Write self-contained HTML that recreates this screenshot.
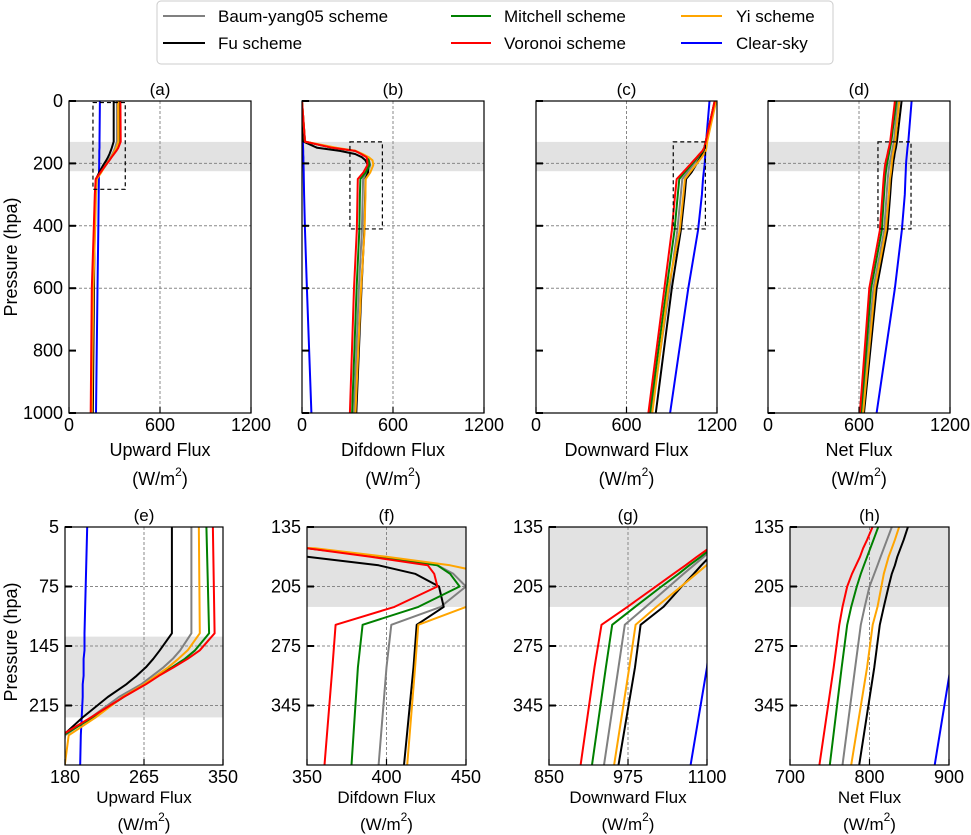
<!DOCTYPE html>
<html><head><meta charset="utf-8">
<style>
html,body{margin:0;padding:0;background:#fff;overflow:hidden;}
svg{display:block;font-family:"Liberation Sans",Arial,sans-serif;}
</style></head>
<body>
<svg id="chart" width="971" height="835" viewBox="0 0 971 835" xmlns="http://www.w3.org/2000/svg">
<g>
<rect x="157" y="1" width="676" height="63" rx="4" fill="#fff" stroke="#ccc"/>
<g><line x1="163" y1="16" x2="205" y2="16" stroke="gray" stroke-width="2"/><text x="218" y="22" font-size="17">Baum-yang05 scheme</text></g>
<g><line x1="163" y1="43" x2="205" y2="43" stroke="#000" stroke-width="2"/><text x="218" y="49" font-size="17">Fu scheme</text></g>
<g><line x1="451" y1="16" x2="491" y2="16" stroke="green" stroke-width="2"/><text x="504" y="22" font-size="17">Mitchell scheme</text></g>
<g><line x1="451" y1="43" x2="491" y2="43" stroke="red" stroke-width="2"/><text x="504" y="49" font-size="17">Voronoi scheme</text></g>
<g><line x1="681" y1="16" x2="722" y2="16" stroke="orange" stroke-width="2"/><text x="736" y="22" font-size="17">Yi scheme</text></g>
<g><line x1="681" y1="43" x2="722" y2="43" stroke="blue" stroke-width="2"/><text x="736" y="49" font-size="17">Clear-sky</text></g>
</g>
<text transform="translate(17,257) rotate(-90)" text-anchor="middle" font-size="18">Pressure (hpa)</text>
<text transform="translate(17,642) rotate(-90)" text-anchor="middle" font-size="18">Pressure (hpa)</text>
</svg>
<script>
// pressure levels (hPa)
const pressure = [0,130,150,160,170,180,190,205,229,250,300,415,600,1000];
const seriesNames = ["Baum-yang05","Fu","Mitchell","Voronoi","Yi","Clear-sky"];
const seriesColors = ["gray","#000","green","red","orange","blue"];
// Upward flux
const upBaum  = [316,316,304,296,286,274,262,238,208,180,175,170,163,152];
const upFu    = [295,295,282,275,267,257,246,226,199,178,172,168,165,157];
const upMitch = [332,335,320,309,295,280,266,243,210,178,172,166,155,147];
const upVoro  = [339,341,325,312,297,281,267,243,208,176,170,163,150,143];
const upYi    = [324,325,312,302,291,278,265,242,213,184,178,172,160,150];
const upClear = [204,201,201,200,200,200,199,199,198,197,196,193,188,178];
// Diffuse downward flux
const dfBaum  = [0,20,200,350,395,432,442,450,434,403,400,395,375,343];
const dfFu    = [0,10,100,250,350,395,418,433,436,419,417,411,392,358];
const dfMitch = [0,20,200,350,395,432,440,446,420,385,382,378,360,330];
const dfVoro  = [0,20,200,350,390,426,430,432,405,368,366,361,343,316];
const dfYi    = [0,20,230,355,400,440,465,470,450,420,418,413,390,352];
const dfClear = [0,6,7,8,8,9,9,10,11,12,14,20,32,62];
// Downward flux
const dnBaum  = [1185,1125,1117,1110,1095,1079,1063,1040,1003,970,960,937,885,765];
const dnFu    = [1188,1128,1118,1110,1104,1091,1079,1060,1031,995,986,960,900,794];
const dnMitch = [1185,1125,1115,1107,1090,1072,1055,1028,986,950,940,918,866,756];
const dnVoro  = [1185,1125,1115,1103,1084,1066,1047,1019,974,933,922,900,851,745];
const dnYi    = [1195,1135,1130,1126,1113,1099,1083,1059,1020,987,977,953,877,771];
const dnClear = [1150,1128,1125,1123,1122,1121,1120,1118,1112,1107,1100,1074,1010,889];
// Net flux
const ntBaum  = [855,830,822,818,814,810,806,800,794,789,782,766,695,622];
const ntFu    = [881,850,843,839,835,832,828,824,818,813,806,787,716,633];
const ntMitch = [845,813,805,801,797,793,789,784,777,772,765,750,680,614];
const ntVoro  = [837,806,797,792,788,783,778,772,766,762,755,737,668,606];
const ntYi    = [865,839,832,828,824,821,818,815,810,804,797,777,705,627];
const ntClear = [947,925,920,918,916,914,912,910,908,906,902,882,837,716];
// tick labels
const topXTicks = [0,600,1200];
const topYTicks = [0,200,400,600,800,1000];
const topYGrid = [200,400,600];
const eYTicks = [5,75,145,215];
const fghYTicks = [135,205,275,345];
const eXTicks = [180,265,350];
const fXTicks = [350,400,450];
const gXTicks = [850,975,1100];
const hXTicks = [700,800,900];

const NS = "http://www.w3.org/2000/svg";
const svg = document.getElementById("chart");
function mk(tag, attrs, parent){
  const e = document.createElementNS(NS, tag);
  for (const k in attrs) e.setAttribute(k, attrs[k]);
  (parent||svg).appendChild(e);
  return e;
}
const upSeries = [upBaum,upFu,upMitch,upVoro,upYi,upClear];
const dfSeries = [dfBaum,dfFu,dfMitch,dfVoro,dfYi,dfClear];
const dnSeries = [dnBaum,dnFu,dnMitch,dnVoro,dnYi,dnClear];
const ntSeries = [ntBaum,ntFu,ntMitch,ntVoro,ntYi,ntClear];
const drawOrder = [5,0,1,2,4,3];

const panels = [
 {id:"a",x0:69,x1:251,y0:101,y1:413,xr:[0,1200],yr:[0,1000],xt:topXTicks,yt:topYTicks,yg:topYGrid,xg:[600],band:[131,225],box:[158,371,5,283],data:upSeries,title:"Upward Flux",ylab:true},
 {id:"b",x0:302,x1:484,y0:101,y1:413,xr:[0,1200],yr:[0,1000],xt:topXTicks,yt:topYTicks,yg:topYGrid,xg:[600],band:[131,225],box:[316,530,131,410],data:dfSeries,title:"Difdown Flux",ylab:false},
 {id:"c",x0:536,x1:717,y0:101,y1:413,xr:[0,1200],yr:[0,1000],xt:topXTicks,yt:topYTicks,yg:topYGrid,xg:[600],band:[131,225],box:[910,1123,131,410],data:dnSeries,title:"Downward Flux",ylab:false},
 {id:"d",x0:768,x1:950,y0:101,y1:413,xr:[0,1200],yr:[0,1000],xt:topXTicks,yt:topYTicks,yg:topYGrid,xg:[600],band:[131,225],box:[725,943,131,410],data:ntSeries,title:"Net Flux",ylab:false},
 {id:"e",x0:65,x1:223,y0:527,y1:765,xr:[180,350],yr:[5,285],xt:eXTicks,yt:eYTicks,yg:[75,145,215],xg:[265],band:[134,229],box:null,data:upSeries,title:"Upward Flux",ylab:true},
 {id:"f",x0:307,x1:466,y0:527,y1:765,xr:[350,450],yr:[135,415],xt:fXTicks,yt:fghYTicks,yg:[205,275,345],xg:[400],band:[135,229],box:null,data:dfSeries,title:"Difdown Flux",ylab:true},
 {id:"g",x0:549,x1:707,y0:527,y1:765,xr:[850,1100],yr:[135,415],xt:gXTicks,yt:fghYTicks,yg:[205,275,345],xg:[975],band:[135,229],box:null,data:dnSeries,title:"Downward Flux",ylab:true},
 {id:"h",x0:790,x1:949,y0:527,y1:765,xr:[700,900],yr:[135,415],xt:hXTicks,yt:fghYTicks,yg:[205,275,345],xg:[800],band:[135,229],box:null,data:ntSeries,title:"Net Flux",ylab:true}
];

const defs = mk("defs",{});
panels.forEach(P=>{
  const X = v => P.x0 + (v-P.xr[0])/(P.xr[1]-P.xr[0])*(P.x1-P.x0);
  const Y = v => P.y0 + (v-P.yr[0])/(P.yr[1]-P.yr[0])*(P.y1-P.y0);
  const cp = mk("clipPath",{id:"clip-"+P.id},defs);
  mk("rect",{x:P.x0,y:P.y0,width:P.x1-P.x0,height:P.y1-P.y0},cp);
  const g = mk("g",{});
  
  
  const band = mk("rect",{x:P.x0,y:Y(P.band[0]),width:P.x1-P.x0,height:Y(P.band[1])-Y(P.band[0]),fill:"#e2e2e2"},g);
  
  
  P.xg.forEach(v=>{
    const l = mk("line",{x1:X(v),x2:X(v),y1:P.y0,y2:P.y1,stroke:"#888","stroke-width":1,"stroke-dasharray":"3,2"},g);
    
    
  });
  P.yg.forEach(v=>{
    const l = mk("line",{x1:P.x0,x2:P.x1,y1:Y(v),y2:Y(v),stroke:"#888","stroke-width":1,"stroke-dasharray":"3,2"},g);
    
    
  });
  const lg = mk("g",{"clip-path":"url(#clip-"+P.id+")"},g);
  drawOrder.forEach(si=>{
    const vals = P.data[si];
    let d = "";
    vals.forEach((v,i)=>{ d += (i?"L":"M") + X(v).toFixed(1) + "," + Y(pressure[i]).toFixed(1); });
    const path = mk("path",{d:d,fill:"none",stroke:seriesColors[si],"stroke-width":2,"stroke-linejoin":"round"},lg);
    
    
  });
  if (P.box){
    const b = mk("rect",{x:X(P.box[0]),y:Y(P.box[2]),width:X(P.box[1])-X(P.box[0]),height:Y(P.box[3])-Y(P.box[2]),fill:"none",stroke:"#000","stroke-width":1.2,"stroke-dasharray":"4,3"},g);
    
    
  }
  const fr = mk("rect",{x:P.x0,y:P.y0,width:P.x1-P.x0,height:P.y1-P.y0,fill:"none",stroke:"#000","stroke-width":1.2},g);
  
  
  P.yt.forEach(v=>{
    mk("line",{x1:P.x0,x2:P.x0+7,y1:Y(v),y2:Y(v),stroke:"#000","stroke-width":2},g);
    if (P.ylab){
      const t = mk("text",{x:P.x0-6,y:Y(v)+6,"text-anchor":"end","font-size":18},g);
      t.textContent = v;
      
      
    }
  });
  P.xt.forEach(v=>{
    mk("line",{x1:X(v),x2:X(v),y1:P.y1,y2:P.y1-6,stroke:"#000","stroke-width":1.2},g);
    const t = mk("text",{x:X(v),y:P.y1+18,"text-anchor":"middle","font-size":18},g);
    t.textContent = v;
    
    
  });
  const cx = (P.x0+P.x1)/2;
  const ti = mk("text",{x:cx,y:P.y0-6,"text-anchor":"middle","font-size":17},g);
  ti.textContent = "("+P.id+")";
  
  
  const top = P.y0 < 300;
  const xl = mk("text",{x:cx,y:P.y1+(top?43:38),"text-anchor":"middle","font-size":top?18:17},g);
  xl.textContent = P.title;
  
  
  const un = mk("text",{x:cx,y:P.y1+(top?72:65),"text-anchor":"middle","font-size":top?18:17},g);
  
  
  const t1 = mk("tspan",{},un); t1.textContent = "(W/m";
  const t2 = mk("tspan",{dy:-9,"font-size":12},un); t2.textContent = "2";
  const t3 = mk("tspan",{dy:9},un); t3.textContent = ")";
});
</script>
</body></html>
